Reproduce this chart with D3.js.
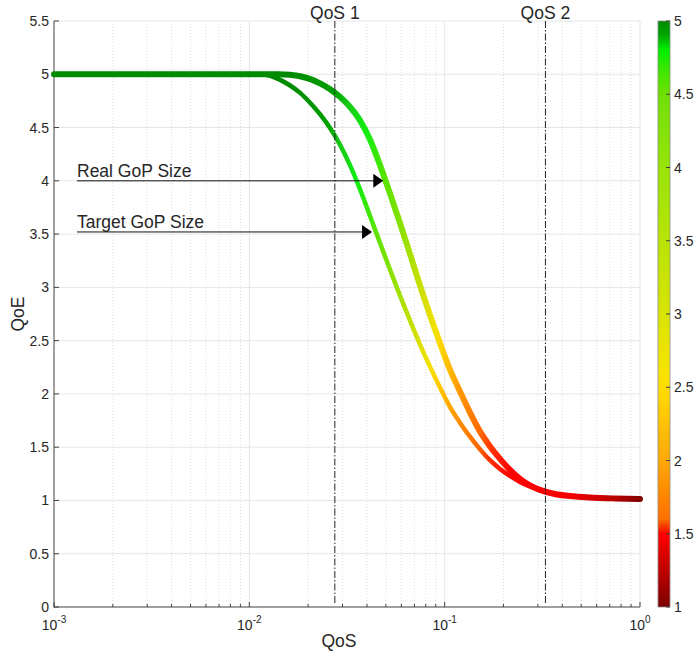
<!DOCTYPE html>
<html>
<head>
<meta charset="utf-8">
<script src="https://cdn.jsdelivr.net/npm/d3@7"></script>
<style>
  body { margin: 0; background: #fff; }
  svg text { font-family: "Liberation Sans", Arial, Helvetica, sans-serif; fill: #262626; }
</style>
</head>
<body>
<svg width="694" height="654"></svg>
<script>
// values
const realQoS   = [0.001, 0.003, 0.01, 0.0143, 0.0161, 0.0182, 0.0204, 0.0230, 0.0259, 0.0291, 0.0327, 0.0368, 0.0414, 0.0466, 0.0524, 0.0590, 0.0664, 0.0746, 0.0840, 0.0945, 0.106, 0.120, 0.135, 0.151, 0.170, 0.192, 0.216, 0.243, 0.273, 0.307, 0.366, 0.437, 0.554, 0.743, 1.0];
const realQoE   = [5, 5, 5, 5.0, 4.995, 4.982, 4.957, 4.915, 4.860, 4.788, 4.695, 4.570, 4.390, 4.150, 3.885, 3.606, 3.315, 3.023, 2.742, 2.479, 2.235, 2.019, 1.822, 1.653, 1.512, 1.390, 1.286, 1.202, 1.141, 1.099, 1.061, 1.042, 1.028, 1.019, 1.014];
const targetQoS = [0.001, 0.003, 0.01, 0.0113, 0.0128, 0.0143, 0.0161, 0.0182, 0.0204, 0.0230, 0.0259, 0.0291, 0.0327, 0.0368, 0.0414, 0.0466, 0.0524, 0.0590, 0.0664, 0.0746, 0.0840, 0.0945, 0.106, 0.120, 0.135, 0.151, 0.170, 0.192, 0.216, 0.243, 0.273, 0.307, 0.366, 0.437, 0.554, 0.743, 1.0];
const targetQoE = [5, 5, 5, 5.0, 4.986, 4.950, 4.897, 4.825, 4.735, 4.625, 4.495, 4.340, 4.150, 3.925, 3.675, 3.420, 3.170, 2.925, 2.690, 2.468, 2.258, 2.062, 1.883, 1.728, 1.596, 1.484, 1.380, 1.296, 1.230, 1.174, 1.131, 1.097, 1.060, 1.041, 1.028, 1.019, 1.014];

const qosMarks  = [{ label: "QoS 1", value: 0.0274 }, { label: "QoS 2", value: 0.328 }];
const notes     = [
    { label: "Real GoP Size",   qoe: 4.0,  tipQoS: 0.0485 },
    { label: "Target GoP Size", qoe: 3.52, tipQoS: 0.0425 },
];
const yTicks    = [0, 0.5, 1, 1.5, 2, 2.5, 3, 3.5, 4, 4.5, 5, 5.5];
const xDecades  = [-3, -2, -1, 0];
const cbarTicks = [1, 1.5, 2, 2.5, 3, 3.5, 4, 4.5, 5];

// colour bar map (value -> colour)
const cmapValues = [1.0, 1.5, 1.55, 1.6, 2.0, 2.5, 2.6, 3.0, 3.5, 4.0, 4.5, 4.7, 4.8, 4.9, 5.0];
const cmapColors = ["#7d0000", "#ff0000", "#ff3a00", "#ff7000", "#ffa800", "#ffdc00", "#f8e400", "#d8e400", "#b8e400", "#98e400", "#70e000", "#30e800", "#00f000", "#00a800", "#008a00"];
// how the markers are shaded along the curves (offset along the gradient -> colour)
const curveStops = [
    [0, "#008a00"], [0.107, "#00a000"], [0.14, "#18c818"], [0.195, "#10ee10"], [0.256, "#55e400"],
    [0.326, "#95e000"], [0.395, "#d0e000"], [0.442, "#f5e000"], [0.465, "#ffd000"], [0.519, "#ff9a00"],
    [0.586, "#ff6a00"], [0.619, "#ff3000"], [0.674, "#ff0000"], [0.814, "#f50000"], [0.912, "#c00000"], [0.986, "#800000"],
];

const svg = d3.select("svg");
const margin = { left: 54, right: 640, top: 21, bottom: 607 };

const x = d3.scaleLog().domain([1e-3, 1]).range([margin.left, margin.right]);
const y = d3.scaleLinear().domain([0, 5.5]).range([margin.bottom, margin.top]);
const c = d3.scaleLinear().domain([1, 5]).range([margin.bottom, margin.top]);

const defs = svg.append("defs");
const barGrad = defs.append("linearGradient")
    .attr("id", "cmapBar")
    .attr("gradientUnits", "userSpaceOnUse")
    .attr("x1", 0).attr("x2", 0)
    .attr("y1", c(1)).attr("y2", c(5));
barGrad.selectAll("stop")
    .data(cmapValues)
    .enter().append("stop")
        .attr("offset", d => (d - 1) / 4)
        .attr("stop-color", (d, i) => cmapColors[i]);

const curveGrad = defs.append("linearGradient")
    .attr("id", "cmapCurve")
    .attr("gradientUnits", "userSpaceOnUse")
    .attr("x1", 294.9).attr("y1", 55.5)
    .attr("x2", 717.6).attr("y2", 135.1);
curveGrad.selectAll("stop")
    .data(curveStops)
    .enter().append("stop")
        .attr("offset", d => d[0])
        .attr("stop-color", d => d[1]);

// grid
const grid = svg.append("g");
const minor = [];
xDecades.slice(0, -1).forEach(k => d3.range(2, 10).forEach(m => minor.push(m * Math.pow(10, k))));

grid.selectAll("line.minor")
    .data(minor)
    .enter().append("line")
        .attr("x1", d => x(d)).attr("x2", d => x(d))
        .attr("y1", margin.top).attr("y2", margin.bottom)
        .attr("stroke", "#dedede")
        .attr("stroke-dasharray", "1,2");

grid.selectAll("line.majorx")
    .data(xDecades.slice(1))
    .enter().append("line")
        .attr("x1", d => x(Math.pow(10, d))).attr("x2", d => x(Math.pow(10, d)))
        .attr("y1", margin.top).attr("y2", margin.bottom)
        .attr("stroke", "#e6e6e6");

grid.selectAll("line.majory")
    .data(yTicks.slice(1))
    .enter().append("line")
        .attr("x1", margin.left).attr("x2", margin.right)
        .attr("y1", d => y(d)).attr("y2", d => y(d))
        .attr("stroke", "#e6e6e6");

// axes
const axes = svg.append("g").attr("stroke", "#404040");
axes.append("line")
    .attr("x1", margin.left).attr("x2", margin.left)
    .attr("y1", margin.top).attr("y2", margin.bottom + 0.5);
axes.append("line")
    .attr("x1", margin.left).attr("x2", margin.right)
    .attr("y1", margin.bottom).attr("y2", margin.bottom);
axes.selectAll("line.yt")
    .data(yTicks)
    .enter().append("line")
        .attr("x1", margin.left).attr("x2", margin.left + 5)
        .attr("y1", d => y(d)).attr("y2", d => y(d));
axes.selectAll("line.xt")
    .data(xDecades)
    .enter().append("line")
        .attr("x1", d => x(Math.pow(10, d))).attr("x2", d => x(Math.pow(10, d)))
        .attr("y1", margin.bottom).attr("y2", margin.bottom - 5);
axes.selectAll("line.xm")
    .data(minor)
    .enter().append("line")
        .attr("x1", d => x(d)).attr("x2", d => x(d))
        .attr("y1", margin.bottom).attr("y2", margin.bottom - 3);

svg.append("g").selectAll("text")
    .data(yTicks)
    .enter().append("text")
        .attr("x", margin.left - 5)
        .attr("y", d => y(d) + 5)
        .attr("text-anchor", "end")
        .attr("font-size", 14)
        .text(d => d);

const xl = svg.append("g").selectAll("text")
    .data(xDecades)
    .enter().append("text")
        .attr("x", d => x(Math.pow(10, d)))
        .attr("y", 630)
        .attr("text-anchor", "middle")
        .attr("font-size", 14);
xl.append("tspan").text("10");
xl.append("tspan").attr("dy", -7).attr("font-size", 10).text(d => d);

svg.append("text")
    .attr("x", 339).attr("y", 647)
    .attr("text-anchor", "middle")
    .attr("font-size", 17.5)
    .text("QoS");

svg.append("text")
    .attr("transform", "translate(24,314) rotate(-90)")
    .attr("text-anchor", "middle")
    .attr("font-size", 17.5)
    .text("QoE");

// curves
const line = d3.line()
    .x(d => x(d[0]))
    .y(d => y(d[1]))
    .curve(d3.curveMonotoneX);

svg.append("path")
    .datum(d3.zip(targetQoS, targetQoE))
    .attr("d", line)
    .attr("fill", "none")
    .attr("stroke", "url(#cmapCurve)")
    .attr("stroke-width", 4.5);

svg.append("path")
    .datum(d3.zip(realQoS, realQoE))
    .attr("d", line)
    .attr("fill", "none")
    .attr("stroke", "url(#cmapCurve)")
    .attr("stroke-width", 6)
    .attr("stroke-linecap", "round");

// QoS thresholds
const marks = svg.append("g").selectAll("g")
    .data(qosMarks)
    .enter().append("g");
marks.append("line")
    .attr("x1", d => x(d.value)).attr("x2", d => x(d.value))
    .attr("y1", margin.top).attr("y2", margin.bottom - 3)
    .attr("stroke", "#222")
    .attr("stroke-dasharray", "7,2,1.5,2");
marks.append("text")
    .attr("x", d => x(d.value))
    .attr("y", 19)
    .attr("text-anchor", "middle")
    .attr("font-size", 17.5)
    .text(d => d.label);

// annotations
const note = svg.append("g").selectAll("g")
    .data(notes)
    .enter().append("g");
note.append("text")
    .attr("x", 77)
    .attr("y", d => y(d.qoe) - 4)
    .attr("font-size", 17.5)
    .text(d => d.label);
note.append("line")
    .attr("x1", 77).attr("x2", d => x(d.tipQoS) - 6)
    .attr("y1", d => y(d.qoe)).attr("y2", d => y(d.qoe))
    .attr("stroke", "#111");
note.append("path")
    .attr("d", d => {
        const tx = x(d.tipQoS), ty = y(d.qoe);
        return `M${tx},${ty} L${tx - 10},${ty - 7} L${tx - 10},${ty + 7} Z`;
    })
    .attr("fill", "#000");

// colorbar
const cbar = svg.append("g");
cbar.append("rect")
    .attr("x", 658).attr("y", c(5))
    .attr("width", 12).attr("height", c(1) - c(5))
    .attr("fill", "url(#cmapBar)")
    .attr("stroke", "#8c8c8c")
    .attr("stroke-width", 0.8);
cbar.selectAll("line")
    .data(cbarTicks)
    .enter().append("line")
        .attr("x1", 666).attr("x2", 670)
        .attr("y1", d => c(d)).attr("y2", d => c(d))
        .attr("stroke", "#404040");
cbar.selectAll("text")
    .data(cbarTicks)
    .enter().append("text")
        .attr("x", 674)
        .attr("y", d => c(d) + 5)
        .attr("font-size", 14)
        .text(d => d);
</script>
</body>
</html>
